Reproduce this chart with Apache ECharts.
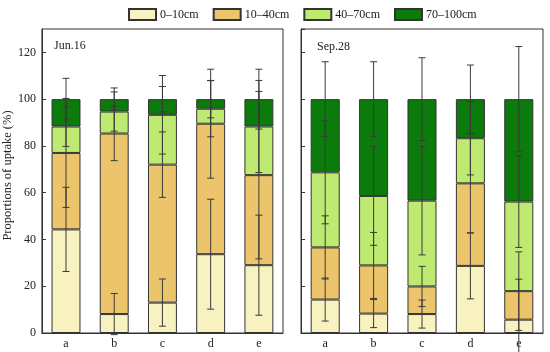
<!DOCTYPE html>
<html>
<head>
<meta charset="utf-8">
<script src="https://cdn.jsdelivr.net/npm/echarts@6/dist/echarts.min.js"></script>
<style>html,body{margin:0;padding:0;background:#fff;}#c{width:550px;height:352px;}</style>
</head>
<body>
<div id="c"></div>
<script>
var categories = ['a', 'b', 'c', 'd', 'e'];
var layerNames = ['0–10cm', '10–40cm', '40–70cm', '70–100cm'];
var panelLabels = ['Jun.16', 'Sep.28'];
var yTicks = [0, 20, 40, 60, 80, 100, 120];

// Jun.16 layer proportions (%)
var jun_0_10 = [44.3, 8.1, 13.0, 33.7, 29.0];
var jun_10_40 = [32.7, 77.2, 59.0, 55.8, 38.5];
var jun_40_70 = [11.3, 9.4, 21.3, 6.4, 20.8];
var jun_70_100 = [11.7, 5.3, 6.7, 4.1, 11.7];
// Jun.16 errors (drawn at the cumulative top of each layer)
var junErr_0_10 = [18.0, 8.8, 10.1, 23.5, 21.4];
var junErr_10_40 = [23.3, 11.6, 14.0, 23.3, 35.8];
var junErr_40_70 = [8.5, 8.4, 16.8, 12.0, 19.7];
var junErr_70_100 = [8.9, 4.8, 5.4, 8.0, 12.8];

// Sep.28 layer proportions (%)
var sep_0_10 = [14.3, 8.3, 8.1, 28.7, 5.7];
var sep_10_40 = [22.3, 20.6, 11.8, 35.3, 12.2];
var sep_40_70 = [32.1, 29.7, 36.7, 19.3, 38.3];
var sep_70_100 = [31.3, 41.4, 43.4, 16.7, 43.8];
// Sep.28 errors
var sepErr_0_10 = [9.2, 6.0, 6.0, 14.1, 17.3];
var sepErr_10_40 = [13.5, 14.1, 8.6, 21.2, 16.8];
var sepErr_40_70 = [22.0, 21.1, 23.2, 15.7, 19.6];
var sepErr_70_100 = [16.0, 16.0, 17.7, 14.6, 22.5];

var colors = ['#F7F2BF', '#EBC46B', '#BEEA71', '#0B7B0B'];
var FONT = 'Liberation Serif';

var panels = [
  {layers: [jun_0_10, jun_10_40, jun_40_70, jun_70_100], errs: [junErr_0_10, junErr_10_40, junErr_40_70, junErr_70_100]},
  {layers: [sep_0_10, sep_10_40, sep_40_70, sep_70_100], errs: [sepErr_0_10, sepErr_10_40, sepErr_40_70, sepErr_70_100]}
];

function renderErr(params, api) {
  var x = api.value(0), c = api.value(1), e = api.value(2);
  var t = api.coord([x, c + e]);
  var b = api.coord([x, c - e]);
  var hw = 3.5;
  var st = {stroke: '#3a3a3a', lineWidth: 1};
  return {type: 'group', children: [
    {type: 'line', shape: {x1: t[0], y1: t[1], x2: b[0], y2: b[1]}, style: st},
    {type: 'line', shape: {x1: t[0] - hw, y1: t[1], x2: t[0] + hw, y2: t[1]}, style: st},
    {type: 'line', shape: {x1: b[0] - hw, y1: b[1], x2: b[0] + hw, y2: b[1]}, style: st}
  ]};
}

var series = [];
panels.forEach(function (p, pi) {
  p.layers.forEach(function (arr, li) {
    series.push({
      type: 'bar', name: layerNames[li], stack: 'p' + pi,
      xAxisIndex: pi, yAxisIndex: pi, barWidth: '60%',
      itemStyle: {color: colors[li], borderColor: '#333', borderWidth: 1},
      data: arr, animation: false
    });
  });
  var cum = [0, 0, 0, 0, 0];
  p.layers.forEach(function (arr, li) {
    var d = [];
    for (var i = 0; i < categories.length; i++) {
      cum[i] += arr[i];
      d.push([i, cum[i], p.errs[li][i]]);
    }
    series.push({
      type: 'custom', name: 'err' + pi + '_' + li,
      xAxisIndex: pi, yAxisIndex: pi,
      renderItem: renderErr, encode: {x: 0, y: 1},
      data: d, z: 10, animation: false, silent: true
    });
  });
});

function xAx(gi) {
  return {
    type: 'category', gridIndex: gi, data: categories,
    axisLine: {lineStyle: {color: '#333', width: 1}},
    axisTick: {inside: true, alignWithLabel: true, length: 3, lineStyle: {color: '#333'}},
    axisLabel: {fontFamily: FONT, fontSize: 12, color: '#222', margin: 5}
  };
}
function yAx(gi, showLabels) {
  var o = {
    type: 'value', gridIndex: gi, min: 0, max: 130, interval: 20,
    splitLine: {show: false},
    axisLine: {show: true, lineStyle: {color: '#333', width: 1}},
    axisTick: {show: true, inside: true, length: 4, lineStyle: {color: '#333'}},
    axisLabel: {show: showLabels, fontFamily: FONT, fontSize: 12, color: '#222', margin: 6, showMaxLabel: false,
      formatter: function (v) { return yTicks.indexOf(v) >= 0 ? String(v) : ''; }}
  };
  if (gi === 0) {
    o.name = 'Proportions of uptake (%)';
    o.nameLocation = 'middle';
    o.nameGap = 21;
    o.nameTextStyle = {fontFamily: FONT, fontSize: 12.5, color: '#222', padding: [0, 0, 0, 11]};
  }
  return o;
}

var chart = echarts.init(document.getElementById('c'), null, {renderer: 'canvas'});
chart.setOption({
  animation: false,
  backgroundColor: '#fff',
  title: [
    {text: panelLabels[0], left: 49, top: 35, textStyle: {fontFamily: FONT, fontSize: 12, fontWeight: 'normal', color: '#222'}},
    {text: panelLabels[1], left: 312, top: 36, textStyle: {fontFamily: FONT, fontSize: 12, fontWeight: 'normal', color: '#222'}}
  ],
  legend: {
    data: layerNames, left: 123, top: 3, icon: 'rect',
    itemWidth: 27, itemHeight: 11, itemGap: 14,
    textStyle: {fontFamily: FONT, fontSize: 12, color: '#222', padding: [0, 0, 0, -1]}
  },
  grid: [
    {left: 41, top: 29, width: 242, height: 304, show: true, borderColor: '#333', borderWidth: 1},
    {left: 301, top: 29, width: 242, height: 304, show: true, borderColor: '#333', borderWidth: 1}
  ],
  xAxis: [xAx(0), xAx(1)],
  yAxis: [yAx(0, true), yAx(1, false)],
  series: series
});
</script>
</body>
</html>
